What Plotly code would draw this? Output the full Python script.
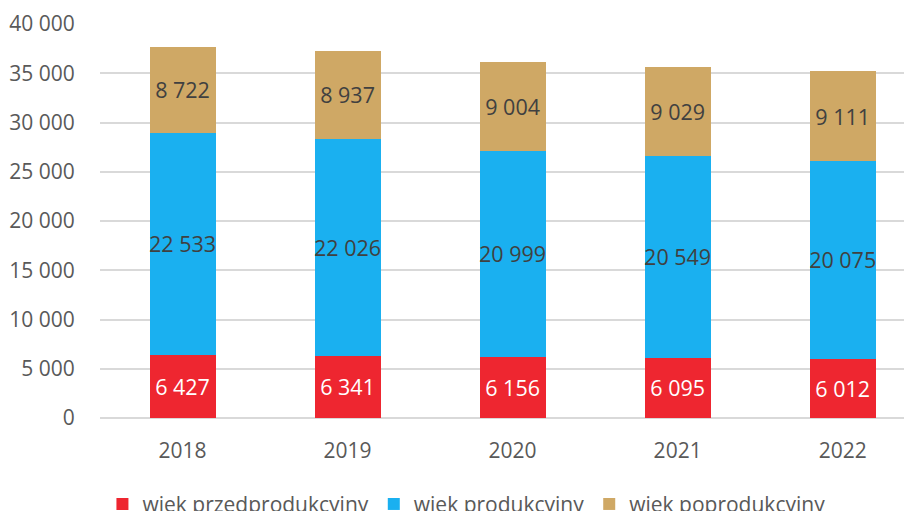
import plotly.graph_objects as go

# Dane: ludność wg ekonomicznych grup wieku
lata = ["2018", "2019", "2020", "2021", "2022"]
przedprodukcyjny = [6427, 6341, 6156, 6095, 6012]
produkcyjny = [22533, 22026, 20999, 20549, 20075]
poprodukcyjny = [8722, 8937, 9004, 9029, 9111]

serie = [
    ("wiek przedprodukcyjny", przedprodukcyjny, "#ee2630", "white"),
    ("wiek produkcyjny", produkcyjny, "#1ab0f0", "#404040"),
    ("wiek poprodukcyjny", poprodukcyjny, "#cfa865", "#404040"),
]

fig = go.Figure()
for nazwa, wartosci, kolor, kolor_tekstu in serie:
    fig.add_trace(go.Bar(
        x=lata,
        y=wartosci,
        name=nazwa,
        marker=dict(color=kolor, line=dict(width=0)),
        texttemplate="%{y:,}",
        textposition="inside",
        insidetextanchor="middle",
        constraintext="none",
        textangle=0,
        textfont=dict(color=kolor_tekstu, size=21.5, family="Open Sans"),
        width=0.4,
        hoverinfo="skip",
    ))

# strona ma domyślny margines 8 px, stąd przesunięte marginesy
fig.update_layout(
    barmode="stack",
    separators=", ",
    width=912,
    height=511,
    margin=dict(l=92, r=8, t=16, b=101, autoexpand=False),
    paper_bgcolor="white",
    plot_bgcolor="white",
    font=dict(family="Open Sans", color="#595959", size=21),
    showlegend=True,
    legend=dict(
        orientation="h",
        x=0.003, xanchor="left",
        y=-0.167, yanchor="top",
        font=dict(size=21, color="#595959"),
        itemwidth=30,
        traceorder="normal",
    ),
    xaxis=dict(
        range=[-0.5, 4.42],
        showgrid=False,
        showline=False,
        ticks="outside",
        ticklen=14,
        tickcolor="white",
    ),
    yaxis=dict(
        range=[0, 40000],
        dtick=5000,
        tickformat=",",
        showgrid=True,
        gridcolor="#d9d9d9",
        gridwidth=1.5,
        zeroline=True,
        zerolinecolor="#d9d9d9",
        zerolinewidth=1.5,
        ticks="outside",
        ticklen=20,
        tickcolor="white",
    ),
)

fig.write_html("out.html")
